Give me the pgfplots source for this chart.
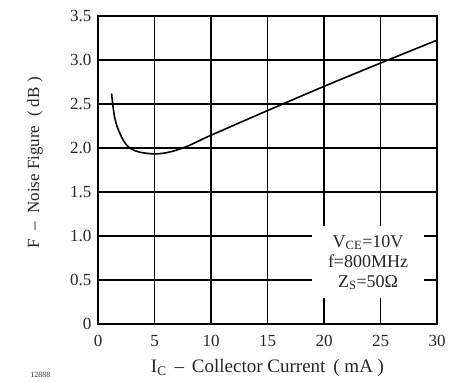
\documentclass[border=0pt]{standalone}
\usepackage{fontspec}
\setmainfont{Liberation Serif}
\usepackage{pgfplots}
\pgfplotsset{compat=1.18}
\begin{document}
\begin{tikzpicture}[x=1pt,y=1pt]
\begin{axis}[
  at={(0,0)}, anchor=south west,
  scale only axis, width=339pt, height=308pt,
  xmin=0, xmax=30, ymin=0, ymax=3.5,
  xtick={0,5,...,30},
  ytick={0,0.5,1,1.5,2,2.5,3,3.5},
  yticklabels={0,0.5,1.0,1.5,2.0,2.5,3.0,3.5},
  grid=major,
  major grid style={black, line width=1.3pt},
  axis line style={line width=1.6pt},
  tick style={draw=none},
  ticklabel style={font=\fontsize{17}{19}\selectfont, text=black!85},
  /pgf/number format/assume math mode=true,
  xticklabel style={yshift=-8pt},
  yticklabel style={xshift=-3pt},
  every axis x label/.style={at={(axis description cs:0.5,0)}, yshift=-44pt, anchor=center, font=\fontsize{19}{21}\selectfont, text=black!85},
  every axis y label/.style={at={(axis description cs:0,0.5)}, xshift=-63pt, yshift=7pt, rotate=90, anchor=center, font=\fontsize{17}{19}\selectfont, text=black!85},
  xlabel={I\textsubscript{C} \,--\, Collector Current \,( mA )},
  ylabel={F \ -- \ Noise Figure \ ( dB )},
  clip=false,
]
\addplot[black, line width=1.6pt, smooth, tension=0.55] coordinates {
  (1.2,2.62) (1.33,2.47) (1.47,2.35) (1.7,2.24) (2.03,2.14) (2.3,2.075)
  (2.6,2.025) (3.0,1.985) (3.5,1.96) (4,1.945) (5,1.933) (6,1.945)
  (7,1.978) (8,2.025) (9,2.085) (10,2.145) (15,2.425)
  (20,2.70) (25,2.965) (30,3.225)
};
\node[fill=white, minimum width=112pt, minimum height=72pt, inner sep=0pt,
      align=center, font=\fontsize{18}{20}\selectfont, text=black!85]
  at (axis cs:23.9,0.70)
  {V\textsubscript{CE}=10V\\f=800MHz\\Z\textsubscript{S}=50Ω};
\node[font=\fontsize{8}{9}\selectfont, text=black!80] at (axis description cs:-0.17,-0.165) {12888};
\end{axis}
\path[use as bounding box] (-98pt,-58pt) rectangle (356pt,324pt);
\end{tikzpicture}
\end{document}
